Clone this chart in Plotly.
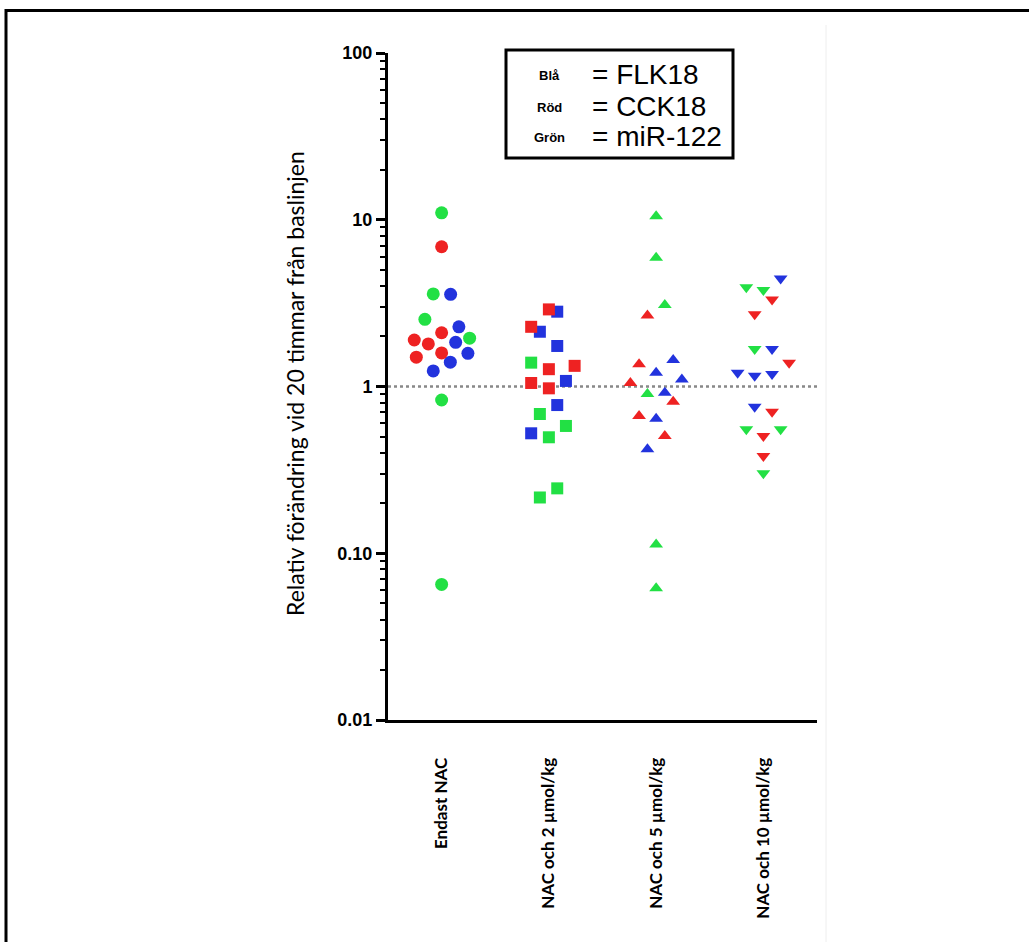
import plotly.graph_objects as go

categories = ["Endast NAC", "NAC och 2 µmol/kg", "NAC och 5 µmol/kg", "NAC och 10 µmol/kg"]
symbols = ["circle", "square", "triangle-up", "triangle-down"]

# Blå = FLK18
blue_values = [
    [3.57, 2.28, 1.84, 1.58, 1.40, 1.24],
    [2.81, 2.13, 1.75, 1.08, 0.774, 0.524],
    [1.44, 1.21, 1.10, 0.918, 0.641, 0.420],
    [4.45, 1.68, 1.21, 1.19, 1.16, 0.756],
]
blue_jitter = [
    [0.084, 0.161, 0.131, 0.245, 0.081, -0.078],
    [0.078, -0.084, 0.078, 0.159, 0.078, -0.165],
    [0.159, 0.0, 0.24, 0.081, 0.0, -0.081],
    [0.161, 0.081, -0.24, 0.081, -0.081, -0.081],
]
# Röd = CCK18
red_values = [
    [6.89, 2.10, 1.90, 1.80, 1.59, 1.50],
    [2.90, 2.28, 1.33, 1.27, 1.05, 0.975],
    [2.67, 1.36, 1.05, 0.811, 0.665, 0.505],
    [3.33, 2.71, 1.39, 0.706, 0.505, 0.383],
]
red_jitter = [
    [0.0, 0.0, -0.255, -0.124, 0.0, -0.236],
    [0.0, -0.165, 0.24, 0.0, -0.165, 0.0],
    [-0.081, -0.159, -0.24, 0.159, -0.159, 0.081],
    [0.081, -0.081, 0.24, 0.081, 0.0, 0.0],
]
# Grön = miR-122
green_values = [
    [11.0, 3.59, 2.53, 1.95, 0.83, 0.065],
    [1.39, 0.684, 0.580, 0.496, 0.245, 0.216],
    [10.5, 5.92, 3.08, 0.902, 0.113, 0.0616],
    [3.94, 3.79, 1.68, 0.554, 0.554, 0.302],
]
green_jitter = [
    [0.0, -0.078, -0.156, 0.261, 0.0, 0.0],
    [-0.165, -0.084, 0.159, 0.0, 0.078, -0.084],
    [0.0, 0.0, 0.081, -0.081, 0.0, 0.0],
    [-0.159, 0.0, -0.081, -0.159, 0.161, 0.0],
]

y_tickvals = [0.01, 0.1, 1, 10, 100]
y_ticktext = ["0.01", "0.10", "1", "10", "100"]

series = [
    ("FLK18", "#2233dd", blue_values, blue_jitter),
    ("CCK18", "#ee2222", red_values, red_jitter),
    ("miR-122", "#22e044", green_values, green_jitter),
]

fig = go.Figure()

# baseline dotted line at 1
fig.add_trace(go.Scatter(
    x=[0.5, 4.5], y=[1, 1], mode="lines",
    line=dict(color="#888888", width=2.5, dash="dot"),
    hoverinfo="skip", showlegend=False,
))

for gi, cat in enumerate(categories):
    for name, color, vals, jit in series:
        xs = [gi + 1 + j for j in jit[gi]]
        fig.add_trace(go.Scatter(
            x=xs, y=vals[gi], mode="markers", name=name,
            marker=dict(symbol=symbols[gi], color=color,
                        size=13 if gi == 0 else 12, line=dict(width=0)),
            showlegend=False,
        ))

minor_vals = [m * 10 ** e for e in range(-2, 2) for m in range(2, 10)]

fig.update_layout(
    width=1029, height=942,
    margin=dict(l=388, r=212, t=53, b=222),
    paper_bgcolor="white", plot_bgcolor="white",
    showlegend=False,
    xaxis=dict(
        range=[0.5, 4.5], tickmode="array",
        tickvals=[1, 2, 3, 4], ticktext=categories,
        tickangle=-90, ticks="", showgrid=False, zeroline=False,
        showline=True, linecolor="black", linewidth=3,
        tickfont=dict(family="Lato", size=17, color="black", weight="bold"),
        ticklabelstandoff=28,
    ),
    yaxis=dict(
        type="log", range=[-2, 2],
        tickmode="array", tickvals=y_tickvals, ticktext=y_ticktext,
        ticks="outside", ticklen=9, tickwidth=2.5, tickcolor="black",
        showgrid=False, zeroline=False,
        showline=True, linecolor="black", linewidth=3,
        tickfont=dict(family="Liberation Sans", size=18, color="black", weight="bold"),
        minor=dict(tickmode="array", tickvals=minor_vals, ticks="outside",
                   ticklen=5, tickwidth=2, tickcolor="black", showgrid=False),
    ),
)

def px_x(p):
    return (p - 388) / 429.0

def px_y(p):
    return (720 - p) / 667.0

shapes = [
    # outer frame: top and left lines
    dict(type="line", xref="paper", yref="paper", x0=px_x(6), x1=px_x(1029),
         y0=px_y(10.5), y1=px_y(10.5), line=dict(color="black", width=3)),
    dict(type="line", xref="paper", yref="paper", x0=px_x(6), x1=px_x(6),
         y0=px_y(9), y1=px_y(942), line=dict(color="black", width=3)),
    # faint image edge
    dict(type="line", xref="paper", yref="paper", x0=px_x(826), x1=px_x(826),
         y0=px_y(25), y1=px_y(942), line=dict(color="#eeeeee", width=1)),
    # legend box
    dict(type="rect", xref="paper", yref="paper", x0=px_x(506), x1=px_x(733),
         y0=px_y(158), y1=px_y(50), line=dict(color="black", width=3),
         fillcolor="white"),
]
fig.update_layout(shapes=shapes)

ann = [
    dict(text="Relativ förändring vid 20 timmar från baslinjen", textangle=-90,
         xref="paper", yref="paper", x=px_x(295), y=px_y(384),
         xanchor="center", yanchor="middle", showarrow=False,
         font=dict(family="Lato", size=23, color="black")),
]
legend_rows = [("Blå", "= FLK18", 75), ("Röd", "= CCK18", 106), ("Grön", "= miR-122", 137)]
for small, big, ypx in legend_rows:
    ann.append(dict(text=small, xref="paper", yref="paper", x=px_x(549), y=px_y(ypx + 1),
                    xanchor="center", yanchor="middle", showarrow=False,
                    font=dict(family="Liberation Sans", size=13, color="black", weight="bold")))
    ann.append(dict(text=big, xref="paper", yref="paper", x=px_x(590), y=px_y(ypx),
                    xanchor="left", yanchor="middle", showarrow=False,
                    font=dict(family="Liberation Sans", size=28, color="black")))
fig.update_layout(annotations=ann)

fig.write_html("out.html", config={"displayModeBar": False},
               post_script="document.body.style.margin='0';document.body.style.overflow='hidden';")
